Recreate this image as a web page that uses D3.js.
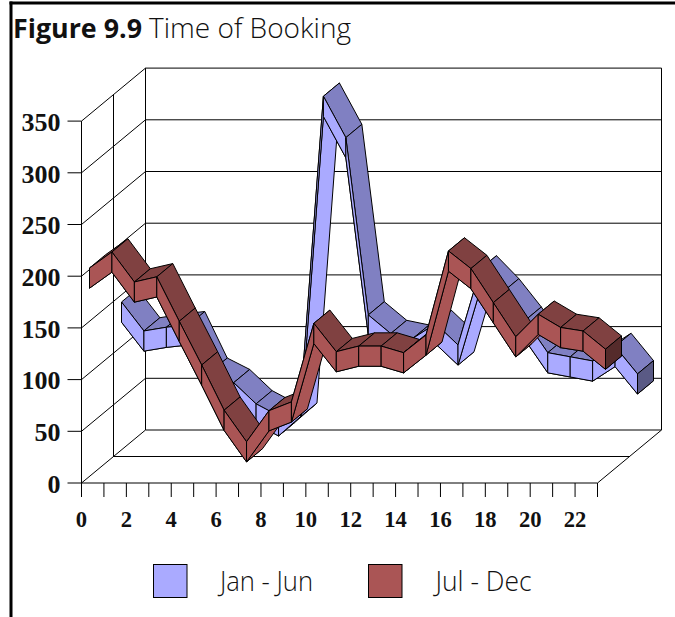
<!DOCTYPE html>
<html><head><meta charset="utf-8">
<script src="https://cdn.jsdelivr.net/npm/d3@7/dist/d3.min.js"></script>
<style>html,body{margin:0;padding:0;background:#fff;overflow:hidden}svg{display:block}</style>
</head><body><div id="c"></div>
<script>
const hours = d3.range(24);
const yTicks = [0,50,100,150,200,250,300,350];
const xLabels = [0,2,4,6,8,10,12,14,16,18,20,22];
const janJun = [143,115,118.6,121,76,65,44.5,33,52,342,302,130.5,112.5,108,122,101.5,175,152.8,125.4,94,90,86,100,73.5];
const julDec = [201.5,217,188,193,150,107.7,64,33.5,63.5,72,148,120.6,126,126,119.6,136.7,218,201,168,135,156.8,144,140.6,123];
const seriesNames = ["Jan - Jun","Jul - Dec"];
const blueShades = ["#AAAAFF","#8080C2","#5A5A85"];
const redShades = ["#AA5555","#804141","#552B2B"];
const thickness = 19.5;

const W=675,H=617;
const svg=d3.select("#c").append("svg").attr("width",W).attr("height",H);
const sx=d3.scaleLinear().domain([0,23]).range([81.5,597.5]);
const sy=d3.scaleLinear().domain([0,350]).range([483,121.1]);
const zx=d3.scaleLinear().domain([0,1]).range([0,64]);
const zy=d3.scaleLinear().domain([0,1]).range([0,-53]);
const P=(x,v,z)=>[sx(x)+zx(z),sy(v)+zy(z)];
const path=d3.line();
const closed=pts=>path(pts)+"Z";

// frame
svg.append("rect").attr("x",9.5).attr("y",1.5).attr("width",3).attr("height",H).attr("fill","#000");
svg.append("rect").attr("x",9.5).attr("y",1.5).attr("width",W).attr("height",3).attr("fill","#000");

// title
const title=svg.append("g").attr("fill","#111").style("font-family","'Open Sans'");
title.append("text").attr("x",13).attr("y",38).attr("textLength",129).attr("lengthAdjust","spacingAndGlyphs")
 .style("font-weight",700).style("font-size","27px").text("Figure 9.9");
title.append("text").attr("x",149).attr("y",38).attr("textLength",202).attr("lengthAdjust","spacingAndGlyphs")
 .style("font-weight",300).style("font-size","27px").text("Time of Booking");

// walls and grid
const grid=svg.append("g").attr("fill","none").attr("stroke","#000").attr("stroke-width",1);
const seg=(a,b)=>grid.append("path").attr("d",path([a,b]));
yTicks.forEach(t=>{
  seg(P(0,t,0),P(0,t,1));
  seg(P(0,t,1),P(23,t,1));
});
seg(P(0,0,0),P(0,350,0));
seg(P(0,0,.5),P(0,350,.5));
seg(P(0,0,1),P(0,350,1));
seg(P(23,0,1),P(23,350,1));
seg(P(0,0,.5),P(23,0,.5));
seg(P(23,0,0),P(23,0,1));

// axes
const fmtX=d=>xLabels.includes(d)?d:"";
const ax=d3.axisBottom(sx).tickValues(hours).tickSize(14).tickFormat(fmtX).offset(0);
const gx=svg.append("g").attr("transform","translate(0,483)").call(ax);
const ay=d3.axisLeft(sy).tickValues(yTicks).tickSize(14).offset(0);
const gy=svg.append("g").attr("transform","translate(81.5,0)").call(ay);
[gx,gy].forEach(g=>{
  g.select(".domain").attr("stroke","#000").attr("d",null);
  g.selectAll(".tick line").attr("stroke","#000");
  g.selectAll("text").attr("fill","#111")
   .style("font-family","'Liberation Serif'").style("font-weight",700);
});
gx.select(".domain").attr("d",path([[sx(0),0],[sx(23),0]]));
gx.selectAll(".tick text").style("font-size","24px").attr("y",44).attr("dy",0)
  .attr("textLength",d=>String(d).length*11.3).attr("lengthAdjust","spacingAndGlyphs");
gy.selectAll("text").style("font-size","26px").attr("x",-21).attr("dy","0.38em");

// ribbons
function ribbon(values,z0,z1,shades,cls){
  const g=svg.append("g").attr("class",cls).attr("stroke","#000").attr("stroke-width",1).attr("stroke-linejoin","round");
  const pairs=d3.pairs(values.map((v,i)=>({i,v})));
  pairs.forEach(([a,b])=>{
    const ft=[P(a.i,a.v,z0),P(b.i,b.v,z0)];
    const bt=[P(a.i,a.v,z1),P(b.i,b.v,z1)];
    const fb=[P(a.i,a.v-thickness,z0),P(b.i,b.v-thickness,z0)];
    const bb=[P(a.i,a.v-thickness,z1),P(b.i,b.v-thickness,z1)];
    const top=()=>g.append("path").attr("fill",shades[1]).attr("d",closed([ft[0],ft[1],bt[1],bt[0]]));
    const under=()=>g.append("path").attr("fill",shades[0]).attr("d",closed([fb[0],fb[1],bb[1],bb[0]]));
    if(b.v>a.v){top();under();}else{under();top();}
    g.append("path").attr("fill",shades[0]).attr("d",closed([ft[0],ft[1],fb[1],fb[0]]));
  });
  const n=values.length-1,v=values[n];
  g.append("path").attr("fill",shades[2]).attr("d",closed([P(n,v,z0),P(n,v,z1),P(n,v-thickness,z1),P(n,v-thickness,z0)]));
}
ribbon(janJun,.625,.875,blueShades,"jan-jun");
ribbon(julDec,.125,.375,redShades,"jul-dec");

// legend
const lx=d3.scalePoint().domain(seriesNames).range([153.5,368.5]);
const leg=svg.append("g").selectAll("g").data(seriesNames).join("g").attr("transform",d=>`translate(${lx(d)},564.5)`);
leg.append("rect").attr("width",33.5).attr("height",33).attr("stroke","#000")
  .attr("fill",(d,i)=>i?redShades[0]:blueShades[0]);
leg.append("text").attr("x",(d,i)=>i?67:66.5).attr("y",26).attr("textLength",(d,i)=>i?96:93)
  .attr("lengthAdjust","spacingAndGlyphs").attr("fill","#111")
  .style("font-family","'Open Sans'").style("font-weight",300).style("font-size","27px").text(d=>d);
</script></body></html>
